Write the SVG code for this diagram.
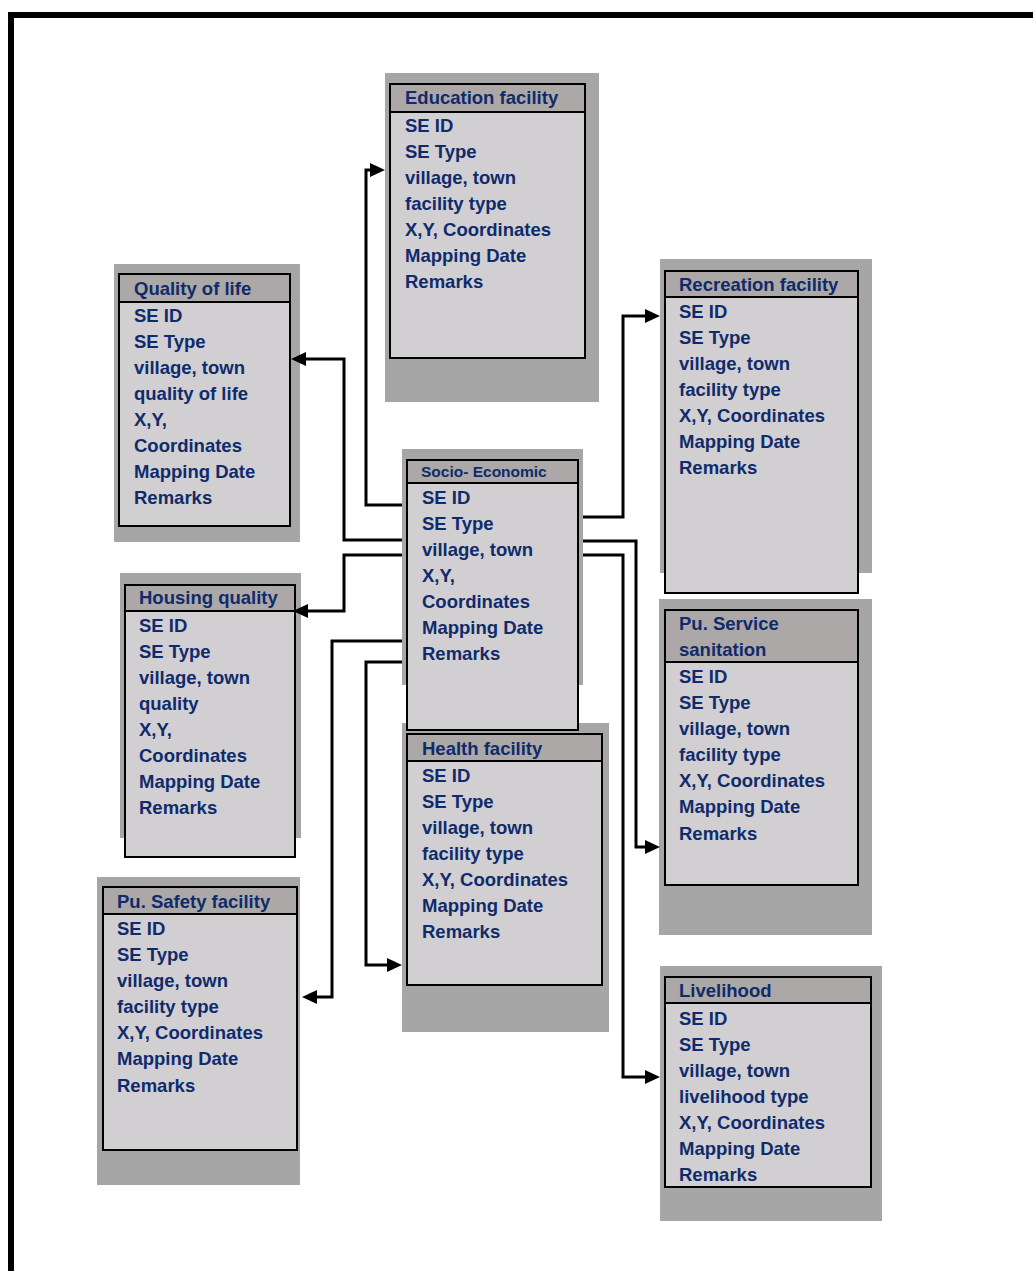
<svg xmlns="http://www.w3.org/2000/svg" width="1033" height="1271" viewBox="0 0 1033 1271">
  <style>
    .shadow { fill: #a6a6a6; }
    .body { fill: #d1cfd1; stroke: #000; stroke-width: 2; }
    .head { fill: #aca8a7; stroke: #000; stroke-width: 2; }
    text { font-family: "Liberation Sans", Arial, sans-serif; font-weight: bold; font-size: 18.5px; fill: #0f2b6b; }
    text.small { font-size: 15.5px; }
    .conn { fill: none; stroke: #000; stroke-width: 3; stroke-linejoin: miter; }
  </style>
  <defs>
    <marker id="arrow" markerUnits="userSpaceOnUse" markerWidth="16" markerHeight="14" refX="0" refY="7" orient="auto">
      <path d="M0,0 L15,7 L0,14 z" fill="#000"/>
    </marker>
  </defs>

  <rect width="1033" height="1271" fill="#fff"/>

  <!-- page frame -->
  <g id="frame" fill="#000">
    <rect x="8" y="12" width="1025" height="6"/>
    <rect x="8" y="12" width="6" height="1259"/>
  </g>

  <!-- Education facility -->
  <g id="education">
    <rect class="shadow" x="385" y="73" width="214" height="329"/>
    <rect class="body" x="390" y="84" width="195" height="274"/>
    <rect class="head" x="390" y="84" width="195" height="28"/>
    <text x="405" y="104">Education facility</text>
    <text x="405" y="132">SE ID</text>
    <text x="405" y="158">SE Type</text>
    <text x="405" y="184">village, town</text>
    <text x="405" y="210">facility type</text>
    <text x="405" y="236">X,Y, Coordinates</text>
    <text x="405" y="262">Mapping Date</text>
    <text x="405" y="288">Remarks</text>
  </g>

  <!-- Quality of life -->
  <g id="quality-of-life">
    <rect class="shadow" x="114" y="264" width="186" height="278"/>
    <rect class="body" x="119" y="274" width="171" height="252"/>
    <rect class="head" x="119" y="274" width="171" height="28"/>
    <text x="134" y="295">Quality of life</text>
    <text x="134" y="322">SE ID</text>
    <text x="134" y="348">SE Type</text>
    <text x="134" y="374">village, town</text>
    <text x="134" y="400">quality of life</text>
    <text x="134" y="426">X,Y,</text>
    <text x="134" y="452">Coordinates</text>
    <text x="134" y="478">Mapping Date</text>
    <text x="134" y="504">Remarks</text>
  </g>

  <!-- Recreation facility -->
  <g id="recreation">
    <rect class="shadow" x="660" y="259" width="212" height="314"/>
    <rect class="body" x="665" y="271" width="193" height="322"/>
    <rect class="head" x="665" y="271" width="193" height="26"/>
    <text x="679" y="291">Recreation facility</text>
    <text x="679" y="318">SE ID</text>
    <text x="679" y="344">SE Type</text>
    <text x="679" y="370">village, town</text>
    <text x="679" y="396">facility type</text>
    <text x="679" y="422">X,Y, Coordinates</text>
    <text x="679" y="448">Mapping Date</text>
    <text x="679" y="474">Remarks</text>
  </g>

  <!-- Housing quality -->
  <g id="housing-quality">
    <rect class="shadow" x="120" y="573" width="181" height="265"/>
    <rect class="body" x="125" y="585" width="170" height="272"/>
    <rect class="head" x="125" y="585" width="170" height="26"/>
    <text x="139" y="604">Housing quality</text>
    <text x="139" y="632">SE ID</text>
    <text x="139" y="658">SE Type</text>
    <text x="139" y="684">village, town</text>
    <text x="139" y="710">quality</text>
    <text x="139" y="736">X,Y,</text>
    <text x="139" y="762">Coordinates</text>
    <text x="139" y="788">Mapping Date</text>
    <text x="139" y="814">Remarks</text>
  </g>

  <!-- Pu. Service sanitation -->
  <g id="pu-service">
    <rect class="shadow" x="659" y="599" width="213" height="336"/>
    <rect class="body" x="665" y="610" width="193" height="275"/>
    <rect class="head" x="665" y="610" width="193" height="52"/>
    <text x="679" y="630">Pu. Service</text>
    <text x="679" y="656">sanitation</text>
    <text x="679" y="683">SE ID</text>
    <text x="679" y="709">SE Type</text>
    <text x="679" y="735">village, town</text>
    <text x="679" y="761">facility type</text>
    <text x="679" y="787">X,Y, Coordinates</text>
    <text x="679" y="813">Mapping Date</text>
    <text x="679" y="840">Remarks</text>
  </g>

  <!-- Health facility -->
  <g id="health">
    <rect class="shadow" x="402" y="723" width="207" height="309"/>
    <rect class="body" x="407" y="734" width="195" height="251"/>
    <rect class="head" x="407" y="734" width="195" height="27"/>
    <text x="422" y="755">Health facility</text>
    <text x="422" y="782">SE ID</text>
    <text x="422" y="808">SE Type</text>
    <text x="422" y="834">village, town</text>
    <text x="422" y="860">facility type</text>
    <text x="422" y="886">X,Y, Coordinates</text>
    <text x="422" y="912">Mapping Date</text>
    <text x="422" y="938">Remarks</text>
  </g>

  <!-- Socio- Economic (central entity) -->
  <g id="socio-economic">
    <rect class="shadow" x="402" y="449" width="181" height="236"/>
    <rect class="body" x="407" y="460" width="171" height="270"/>
    <rect class="head" x="407" y="460" width="171" height="23"/>
    <text class="small" x="421" y="477">Socio- Economic</text>
    <text x="422" y="504">SE ID</text>
    <text x="422" y="530">SE Type</text>
    <text x="422" y="556">village, town</text>
    <text x="422" y="582">X,Y,</text>
    <text x="422" y="608">Coordinates</text>
    <text x="422" y="634">Mapping Date</text>
    <text x="422" y="660">Remarks</text>
  </g>

  <!-- Pu. Safety facility -->
  <g id="pu-safety">
    <rect class="shadow" x="97" y="877" width="203" height="308"/>
    <rect class="body" x="103" y="887" width="194" height="263"/>
    <rect class="head" x="103" y="887" width="194" height="27"/>
    <text x="117" y="908">Pu. Safety facility</text>
    <text x="117" y="935">SE ID</text>
    <text x="117" y="961">SE Type</text>
    <text x="117" y="987">village, town</text>
    <text x="117" y="1013">facility type</text>
    <text x="117" y="1039">X,Y, Coordinates</text>
    <text x="117" y="1065">Mapping Date</text>
    <text x="117" y="1092">Remarks</text>
  </g>

  <!-- Livelihood -->
  <g id="livelihood">
    <rect class="shadow" x="660" y="966" width="222" height="255"/>
    <rect class="body" x="665" y="977" width="206" height="210"/>
    <rect class="head" x="665" y="977" width="206" height="26"/>
    <text x="679" y="997">Livelihood</text>
    <text x="679" y="1025">SE ID</text>
    <text x="679" y="1051">SE Type</text>
    <text x="679" y="1077">village, town</text>
    <text x="679" y="1103">livelihood type</text>
    <text x="679" y="1129">X,Y, Coordinates</text>
    <text x="679" y="1155">Mapping Date</text>
    <text x="679" y="1181">Remarks</text>
  </g>

  <!-- connectors from the central entity -->
  <g id="connectors" class="conn">
    <path class="conn" d="M402,505 H366 V170 H370" marker-end="url(#arrow)"/>
    <path class="conn" d="M402,540 H344 V359 H306" marker-end="url(#arrow)"/>
    <path class="conn" d="M402,555 H344 V611 H308" marker-end="url(#arrow)"/>
    <path class="conn" d="M402,641 H332 V997 H317" marker-end="url(#arrow)"/>
    <path class="conn" d="M402,662 H366 V965 H387" marker-end="url(#arrow)"/>
    <path class="conn" d="M583,517 H623 V316 H645" marker-end="url(#arrow)"/>
    <path class="conn" d="M583,541 H636 V847 H645" marker-end="url(#arrow)"/>
    <path class="conn" d="M583,555 H623 V1077 H645" marker-end="url(#arrow)"/>
  </g>
</svg>
